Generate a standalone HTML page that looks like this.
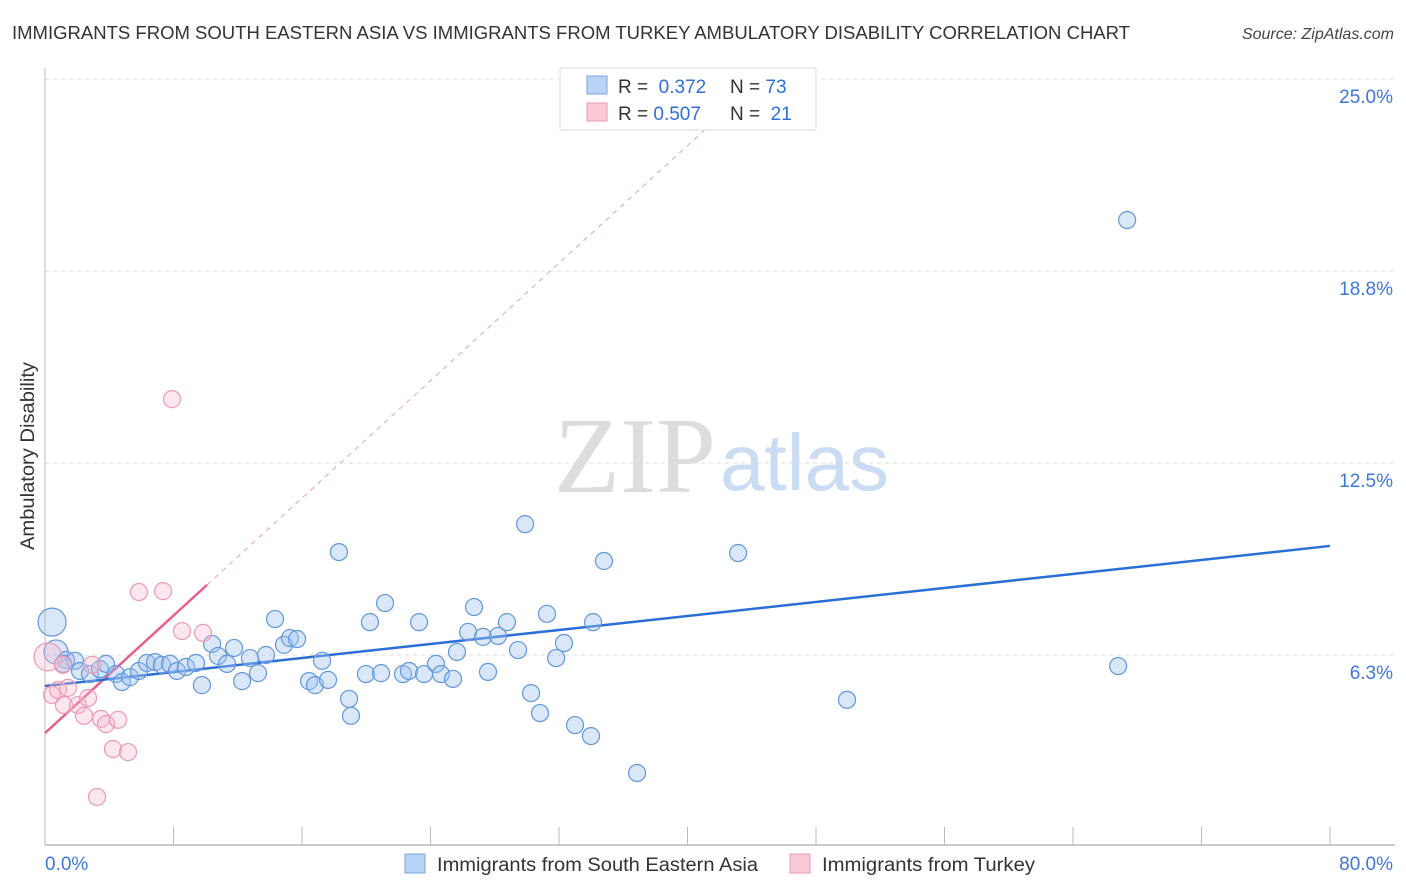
<!DOCTYPE html>
<html><head><meta charset="utf-8"><style>
body{margin:0;background:#fff;font-family:"Liberation Sans",sans-serif}
svg{display:block}
</style></head><body>
<svg id="chart" width="1406" height="892" viewBox="0 0 1406 892" xmlns="http://www.w3.org/2000/svg">
<text x="12" y="39" font-size="18" fill="#333" textLength="1118" lengthAdjust="spacingAndGlyphs">IMMIGRANTS FROM SOUTH EASTERN ASIA VS IMMIGRANTS FROM TURKEY AMBULATORY DISABILITY CORRELATION CHART</text>
<text x="1394" y="39" font-size="16" fill="#444" font-style="italic" text-anchor="end">Source: ZipAtlas.com</text>
<text x="635" y="492" font-size="108" fill="#ddd" text-anchor="middle" font-family="Liberation Serif, serif">ZIP</text>
<text x="720" y="490" font-size="80" fill="#c9dcf3" font-family="Liberation Sans, sans-serif">atlas</text>
<text transform="translate(34,456) rotate(-90)" font-size="19" fill="#333" text-anchor="middle" textLength="188" lengthAdjust="spacingAndGlyphs">Ambulatory Disability</text>
<g id="grid"></g><g id="axes"></g><g id="trends"></g><g id="points"></g>
<g>
<rect x="560" y="68" width="256" height="62" fill="#fff" stroke="#ddd"/>
<rect x="587" y="76" width="20" height="18" fill="#b8d3f5" stroke="#7aa6e0"/>
<text x="618" y="93" font-size="19" fill="#333">R = <tspan fill="#2f6fd6">&#160;0.372</tspan><tspan x="730">N = </tspan><tspan fill="#2f6fd6">73</tspan></text>
<rect x="587" y="103" width="20" height="18" fill="#fbc8d6" stroke="#e99ab2"/>
<text x="618" y="120" font-size="19" fill="#333">R = <tspan fill="#2f6fd6">0.507</tspan><tspan x="730">N = </tspan><tspan fill="#2f6fd6">&#160;21</tspan></text>
</g>
<g>
<rect x="405" y="854" width="20" height="19" fill="#b8d3f5" stroke="#7aa6e0"/>
<text x="437" y="871" font-size="19" fill="#333" textLength="321" lengthAdjust="spacingAndGlyphs">Immigrants from South Eastern Asia</text>
<rect x="790" y="854" width="20" height="19" fill="#fbc8d6" stroke="#e99ab2"/>
<text x="822" y="871" font-size="19" fill="#333" textLength="213" lengthAdjust="spacingAndGlyphs">Immigrants from Turkey</text>
</g>
</svg>
<script>
const blueX=[0.44,0.68,1.31,1.87,1.12,2.18,2.80,3.42,3.80,4.42,4.79,5.29,5.85,6.35,6.85,7.28,7.78,8.22,8.78,9.40,9.77,10.40,10.77,11.33,11.77,12.27,12.76,13.26,13.76,14.32,14.88,15.25,15.69,16.44,16.81,17.25,17.62,18.30,18.93,19.05,19.98,20.23,20.92,21.17,22.29,22.66,23.29,23.60,24.34,24.65,25.40,25.65,26.34,26.71,27.27,27.58,28.20,28.76,29.45,29.89,30.26,30.82,31.25,31.82,32.31,33.00,33.99,34.12,34.80,36.86,43.15,49.93,66.81,67.37];
const blueY=[7.32,6.35,6.09,6.06,5.96,5.73,5.63,5.79,5.96,5.63,5.37,5.53,5.73,5.99,6.02,5.93,5.96,5.73,5.86,5.99,5.27,6.61,6.22,5.96,6.48,5.40,6.15,5.66,6.25,7.42,6.58,6.80,6.77,5.40,5.27,6.06,5.44,9.60,4.82,4.27,5.63,7.32,5.66,7.94,5.63,5.73,7.32,5.63,5.96,5.63,5.47,6.35,7.00,7.81,6.84,5.70,6.87,7.32,6.41,10.51,5.01,4.36,7.59,6.15,6.64,3.97,3.61,7.32,9.31,2.41,9.57,4.79,5.89,20.41];
const pinkX=[0.19,0.44,0.81,1.43,1.18,2.05,2.43,2.68,2.93,3.49,3.80,4.23,4.55,5.17,3.24,5.85,7.35,8.53,9.84,7.91,1.12];
const pinkY=[6.19,4.95,5.11,5.18,4.62,4.62,4.27,4.85,5.93,4.17,4.00,3.19,4.14,3.09,1.63,8.30,8.33,7.03,6.97,14.58,5.93];
const blueTrend=[5.24,9.80];   // y at x=0 and x=80
const pinkTrend=[3.71,0.478];  // intercept, slope
const yTicks=[6.3,12.5,18.8,25.0];
const yTickVals=[6.25,12.5,18.75,25];
const xTickLabels=["0.0%","80.0%"];
const NS="http://www.w3.org/2000/svg";
const X=v=>45+v/80*1285, Y=v=>847-v/25*768;
function mk(t,a,p){const e=document.createElementNS(NS,t);for(const k in a)e.setAttribute(k,a[k]);p.appendChild(e);return e;}
const grid=document.getElementById('grid'),axes=document.getElementById('axes');
yTickVals.forEach((v,i)=>{
 const l=mk('line',{x1:45,x2:1393,y1:Y(v),y2:Y(v),stroke:'#ddd','stroke-dasharray':'4,4'},grid);
 
 
 const t=mk('text',{x:1393,y:Y(v)+24,'font-size':19,fill:'#3b78d8','text-anchor':'end'},axes);
 t.textContent=yTicks[i].toFixed(1)+'%';
 
 
});
const yl=mk('line',{x1:45,x2:45,y1:68,y2:845,stroke:'#bbb'},axes);


const xl=mk('line',{x1:45,x2:1395,y1:845,y2:845,stroke:'#bbb','stroke-width':1.5},axes);


for(let i=0;i<=10;i++){const tk=mk('line',{x1:X(i*8),x2:X(i*8),y1:827,y2:845,stroke:'#bbb'},axes);
 
 }
[[0,45,'start'],[80,1393,'end']].forEach((d,i)=>{const t=mk('text',{x:d[1],y:870,'font-size':19,fill:'#3b78d8','text-anchor':d[2]},axes);
 t.textContent=xTickLabels[i];
 
 });
const tr=document.getElementById('trends');
const xEnd=(25-pinkTrend[0])/pinkTrend[1];
const pd=mk('line',{x1:X(10.09),y1:Y(pinkTrend[0]+pinkTrend[1]*10.09),x2:X(xEnd),y2:Y(25),stroke:'#e8a0b6','stroke-dasharray':'5,5','stroke-width':1},tr);


const pl=mk('line',{x1:X(0),y1:Y(pinkTrend[0]),x2:X(10.09),y2:Y(pinkTrend[0]+pinkTrend[1]*10.09),stroke:'#e8608a','stroke-width':2.5},tr);


const bl=mk('line',{x1:X(0),y1:Y(blueTrend[0]),x2:X(80),y2:Y(blueTrend[1]),stroke:'#2a6fd6','stroke-width':2.5},tr);


const pts=document.getElementById('points');
blueX.forEach((x,i)=>{const c=mk('circle',{cx:X(x),cy:Y(blueY[i]),r:i==0?14:(i==1?12:8.5),fill:'rgba(160,195,240,0.4)',stroke:'#6197de','stroke-width':1.2},pts);
 
 });
pinkX.forEach((x,i)=>{const c=mk('circle',{cx:X(x),cy:Y(pinkY[i]),r:i==0?14:8.5,fill:'rgba(248,185,205,0.35)',stroke:'#eb9ab4','stroke-width':1.2},pts);
 
 });
</script>
</body></html>
